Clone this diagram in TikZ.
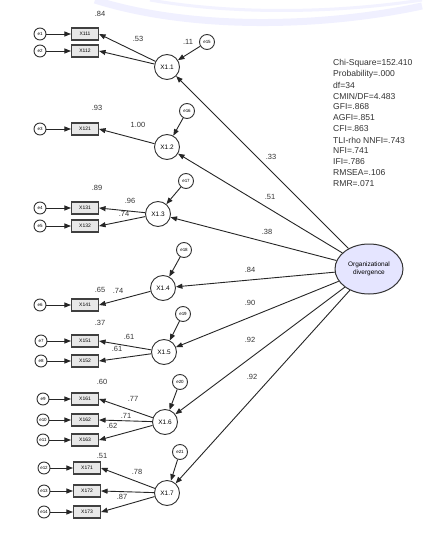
\documentclass[tikz,border=0pt]{standalone}
\usepackage{fontspec}
\setmainfont{Liberation Sans}
\usetikzlibrary{arrows.meta,shapes.geometric}
\begin{document}
\begin{tikzpicture}[x=1bp,y=-1bp,
  obs/.style={rectangle, draw=black!75, fill=gray!18, line width=1.1bp, minimum width=27bp, minimum height=12bp, inner sep=0pt, font=\fontsize{5}{6}\selectfont},
  err/.style={circle, draw=black!80, line width=0.9bp, minimum size=12bp, inner sep=0pt, font=\fontsize{4.5}{5}\selectfont},
  res/.style={circle, draw=black!80, line width=0.9bp, minimum size=15bp, inner sep=0pt, font=\fontsize{4.5}{5}\selectfont},
  lat/.style={circle, draw=black!80, line width=0.9bp, minimum size=25bp, inner sep=0pt, font=\fontsize{6.5}{7}\selectfont},
  arr/.style={-{Triangle[length=6.5bp,width=5bp]}, line width=0.9bp, black!85},
  lab/.style={inner sep=0pt, font=\fontsize{7.5}{8}\selectfont, black!80},
  fit/.style={inner sep=0pt, anchor=west, font=\fontsize{8.6}{9}\selectfont, black!80}
]
\useasboundingbox (0,0) rectangle (422,534);
\fill[white] (0,0) rectangle (422,534);
% faint watermark arcs
\draw[line width=7bp, blue!6] (95,0) .. controls (190,30) and (320,28) .. (422,6);
\draw[line width=3bp, blue!5] (150,0) .. controls (230,14) and (330,14) .. (422,0);

% observed variables
\node[obs] (b1)  at (85,34)  {X111};
\node[obs] (b2)  at (85,51)  {X112};
\node[obs] (b3)  at (85,129) {X121};
\node[obs] (b4)  at (85,208) {X131};
\node[obs] (b5)  at (85,226) {X132};
\node[obs] (b6)  at (85,305) {X141};
\node[obs] (b7)  at (85,341) {X151};
\node[obs] (b8)  at (85,361) {X152};
\node[obs] (b9)  at (85,399) {X161};
\node[obs] (b10) at (85,420) {X162};
\node[obs] (b11) at (85,440) {X163};
\node[obs] (b12) at (87,468) {X171};
\node[obs] (b13) at (87,491) {X172};
\node[obs] (b14) at (87,512) {X173};

% error terms
\foreach \i/\y/\x in {1/34/40,2/51/40,3/129/40,4/208/40,5/226/40,6/305/40,7/341/41,8/361/41,9/399/43,10/420/43,11/440/43,12/468/44,13/491/44,14/512/44}{
  \node[err] (e\i) at (\x,\y) {e\i};
  \draw[arr] (e\i) -- (b\i);
}

% latent factors
\node[lat] (f1) at (167,67)  {X1.1};
\node[lat] (f2) at (167,147) {X1.2};
\node[lat] (f3) at (158,214) {X1.3};
\node[lat] (f4) at (163,288) {X1.4};
\node[lat] (f5) at (164,352) {X1.5};
\node[lat] (f6) at (165,422) {X1.6};
\node[lat] (f7) at (167,493) {X1.7};

% residuals
\node[res] (r1) at (207,42)  {e15};
\node[res] (r2) at (187,111) {e16};
\node[res] (r3) at (186,181) {e17};
\node[res] (r4) at (184,250) {e18};
\node[res] (r5) at (183,314) {e19};
\node[res] (r6) at (180,382) {e20};
\node[res] (r7) at (180,452) {e21};
\foreach \i in {1,...,7}{ \draw[arr] (r\i) -- (f\i); }

% loadings
\draw[arr] (f1) -- (b1.east);
\draw[arr] (f1) -- (b2.east);
\draw[arr] (f2) -- (b3.east);
\draw[arr] (f3) -- (b4.east);
\draw[arr] (f3) -- (b5.east);
\draw[arr] (f4) -- (b6.east);
\draw[arr] (f5) -- (b7.east);
\draw[arr] (f5) -- (b8.east);
\draw[arr] (f6) -- (b9.east);
\draw[arr] (f6) -- (b10.east);
\draw[arr] (f6) -- (b11.east);
\draw[arr] (f7) -- (b12.east);
\draw[arr] (f7) -- (b13.east);
\draw[arr] (f7) -- (b14.east);

% second-order factor
\node[ellipse, draw=black!80, line width=1bp, fill=blue!10, minimum width=68bp, minimum height=50bp, inner sep=0pt, align=center, font=\fontsize{6.5}{7.5}\selectfont] (org) at (369,269) {Organizational\\divergence};
\foreach \i in {1,...,7}{ \draw[arr] (org) -- (f\i); }

% labels
\node[lab] (l1)  at (100,14)  {.84};
\node[lab] (l2)  at (138,39)  {.53};
\node[lab] (l3)  at (188,42)  {.11};
\node[lab] (l4)  at (97,108)  {.93};
\node[lab] (l5)  at (138,125) {1.00};
\node[lab] (l6)  at (97,188)  {.89};
\node[lab] (l7)  at (130,201) {.96};
\node[lab] (l8)  at (124,214) {.74};
\node[lab] (l9)  at (100,290) {.65};
\node[lab] (l10) at (118,291) {.74};
\node[lab] (l11) at (100,323) {.37};
\node[lab] (l12) at (129,337) {.61};
\node[lab] (l13) at (117,349) {.61};
\node[lab] (l14) at (102,382) {.60};
\node[lab] (l15) at (133,399) {.77};
\node[lab] (l16) at (126,416) {.71};
\node[lab] (l17) at (112,426) {.62};
\node[lab] (l18) at (102,456) {.51};
\node[lab] (l19) at (137,472) {.78};
\node[lab] (l20) at (122,497) {.87};
\node[lab] (s1) at (271,157) {.33};
\node[lab] (s2) at (270,197) {.51};
\node[lab] (s3) at (267,232) {.38};
\node[lab] (s4) at (250,270) {.84};
\node[lab] (s5) at (250,303) {.90};
\node[lab] (s6) at (250,340) {.92};
\node[lab] (s7) at (252,377) {.92};

% fit indices
\node[fit] (t1)  at (333,63)  {Chi-Square=152.410};
\node[fit] (t2)  at (333,74)  {Probability=.000};
\node[fit] (t3)  at (333,85)  {df=34};
\node[fit] (t4)  at (333,96)  {CMIN/DF=4.483};
\node[fit] (t5)  at (333,107) {GFI=.868};
\node[fit] (t6)  at (333,118) {AGFI=.851};
\node[fit] (t7)  at (333,129) {CFI=.863};
\node[fit] (t8)  at (333,140) {TLI-rho NNFI=.743};
\node[fit] (t9)  at (333,151) {NFI=.741};
\node[fit] (t10) at (333,162) {IFI=.786};
\node[fit] (t11) at (333,173) {RMSEA=.106};
\node[fit] (t12) at (333,184) {RMR=.071};
\end{tikzpicture}
\end{document}
